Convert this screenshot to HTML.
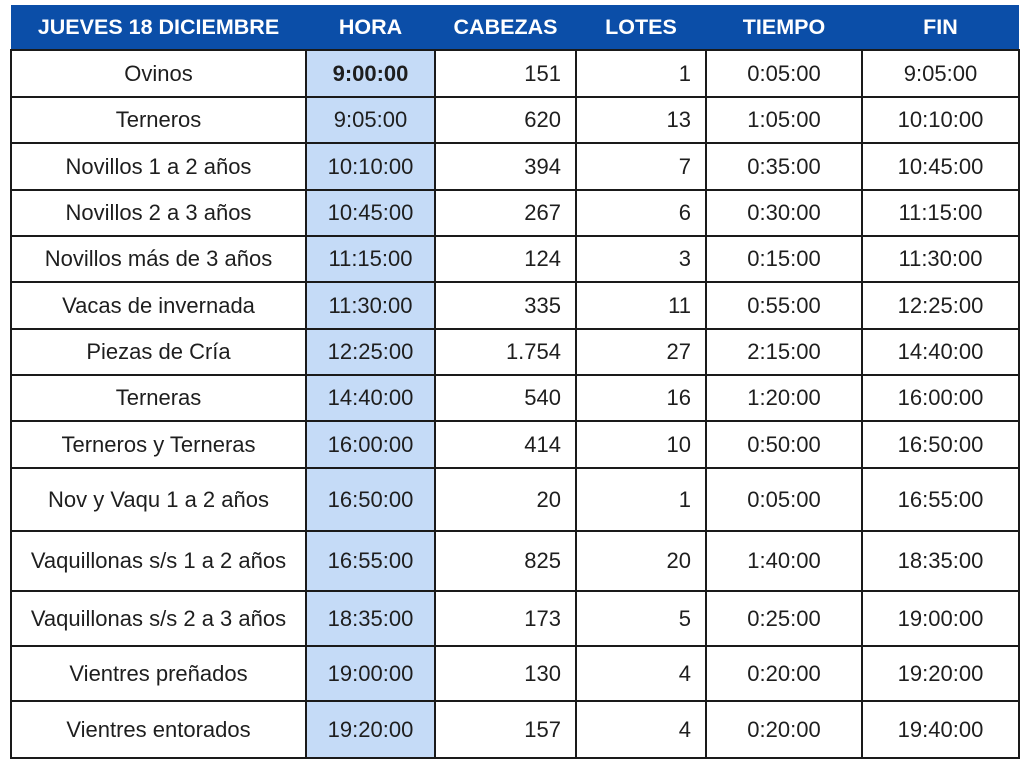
<!DOCTYPE html><html><head><style>
body{margin:0;background:#fff;width:1024px;height:772px;overflow:hidden;font-family:"Liberation Sans",sans-serif}
table{position:absolute;left:10px;top:5px;border-collapse:collapse;table-layout:fixed;width:1008px}
th{background:#0b4ea8;color:#fff;font-size:21.5px;font-weight:bold;height:44px;padding:0;border:none}
td{border:2px solid #1a1a1a;font-size:22px;color:#1e1e1e;padding:0;text-align:center}
td.r{text-align:right;padding-right:14px}
td.h{background:#c5dbf7}
</style></head><body>
<table>
<colgroup><col style="width:295px"><col style="width:129px"><col style="width:141px"><col style="width:130px"><col style="width:156px"><col style="width:157px"></colgroup>
<tr><th>JUEVES 18 DICIEMBRE</th><th>HORA</th><th>CABEZAS</th><th>LOTES</th><th>TIEMPO</th><th>FIN</th></tr>
<tr style="height:47px"><td>Ovinos</td><td class="h"><b>9:00:00</b></td><td class="r">151</td><td class="r">1</td><td>0:05:00</td><td>9:05:00</td></tr>
<tr style="height:46px"><td>Terneros</td><td class="h">9:05:00</td><td class="r">620</td><td class="r">13</td><td>1:05:00</td><td>10:10:00</td></tr>
<tr style="height:47px"><td>Novillos 1 a 2 años</td><td class="h">10:10:00</td><td class="r">394</td><td class="r">7</td><td>0:35:00</td><td>10:45:00</td></tr>
<tr style="height:46px"><td>Novillos 2 a 3 años</td><td class="h">10:45:00</td><td class="r">267</td><td class="r">6</td><td>0:30:00</td><td>11:15:00</td></tr>
<tr style="height:46px"><td>Novillos más de 3 años</td><td class="h">11:15:00</td><td class="r">124</td><td class="r">3</td><td>0:15:00</td><td>11:30:00</td></tr>
<tr style="height:47px"><td>Vacas de invernada</td><td class="h">11:30:00</td><td class="r">335</td><td class="r">11</td><td>0:55:00</td><td>12:25:00</td></tr>
<tr style="height:46px"><td>Piezas de Cría</td><td class="h">12:25:00</td><td class="r">1.754</td><td class="r">27</td><td>2:15:00</td><td>14:40:00</td></tr>
<tr style="height:46px"><td>Terneras</td><td class="h">14:40:00</td><td class="r">540</td><td class="r">16</td><td>1:20:00</td><td>16:00:00</td></tr>
<tr style="height:47px"><td>Terneros y Terneras</td><td class="h">16:00:00</td><td class="r">414</td><td class="r">10</td><td>0:50:00</td><td>16:50:00</td></tr>
<tr style="height:63px"><td>Nov y Vaqu 1 a 2 años</td><td class="h">16:50:00</td><td class="r">20</td><td class="r">1</td><td>0:05:00</td><td>16:55:00</td></tr>
<tr style="height:60px"><td>Vaquillonas s/s 1 a 2 años</td><td class="h">16:55:00</td><td class="r">825</td><td class="r">20</td><td>1:40:00</td><td>18:35:00</td></tr>
<tr style="height:55px"><td>Vaquillonas s/s 2 a 3 años</td><td class="h">18:35:00</td><td class="r">173</td><td class="r">5</td><td>0:25:00</td><td>19:00:00</td></tr>
<tr style="height:55px"><td>Vientres preñados</td><td class="h">19:00:00</td><td class="r">130</td><td class="r">4</td><td>0:20:00</td><td>19:20:00</td></tr>
<tr style="height:57px"><td>Vientres entorados</td><td class="h">19:20:00</td><td class="r">157</td><td class="r">4</td><td>0:20:00</td><td>19:40:00</td></tr>
</table>
</body></html>
